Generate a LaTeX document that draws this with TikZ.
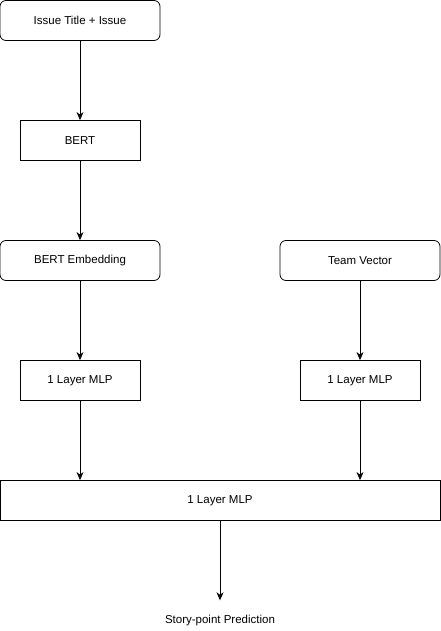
\documentclass[tikz,border=0pt]{standalone}
\usepackage{fontspec}
\setmainfont{Liberation Sans}
\usepackage{tikz}
\usetikzlibrary{arrows,arrows.meta,shapes,positioning}

\tikzset{
    box/.style={draw, line width=0.8pt, minimum width=120pt, minimum height=40pt, inner sep=0pt, font=\fontsize{11.5}{14}\selectfont},
    rbox/.style={box, rounded corners=6pt, minimum width=160pt},
    flow/.style={-{Stealth[length=8pt,width=7pt,inset=2.5pt]}, line width=0.8pt},
}

\begin{document}
\begin{tikzpicture}[x=1pt, y=-1pt]
        \useasboundingbox (0,0) rectangle (441,631);

        \node[rbox] (issue) at (80,20.5) {Issue Title + Issue};
        \node[box] (bert) at (80,140.5) {BERT};
        \node[rbox] (emb) at (80,260.5) {BERT Embedding};
        \node[rbox] (team) at (360,260.5) {Team Vector};
        \node[box] (mlpl) at (80,380.5) {1 Layer MLP};
        \node[box] (mlpr) at (360,380.5) {1 Layer MLP};
        \node[box, minimum width=440pt] (mlp) at (220,500.5) {1 Layer MLP};
        \node[minimum height=40pt, inner sep=0pt, font=\fontsize{11.5}{14}\selectfont] (pred) at (220,620.5) {Story-point Prediction};

        \draw[flow] (issue) -- (bert);
        \draw[flow] (bert) -- (emb);
        \draw[flow] (emb) -- (mlpl);
        \draw[flow] (team) -- (mlpr);
        \draw[flow] (mlpl) -- (mlpl |- mlp.north);
        \draw[flow] (mlpr) -- (mlpr |- mlp.north);
        \draw[flow] (mlp) -- (pred);

    \end{tikzpicture}
\end{document}
